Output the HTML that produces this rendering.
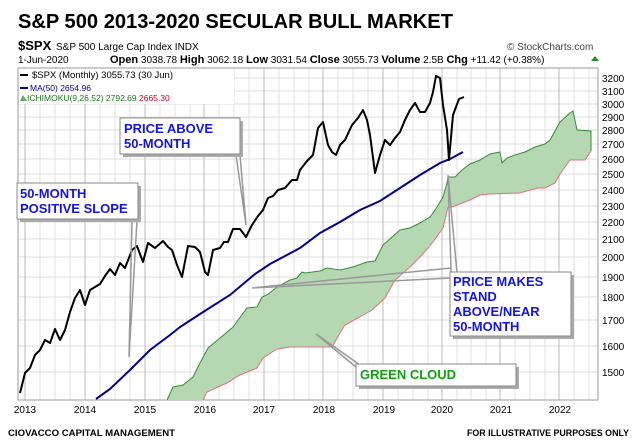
<!DOCTYPE html>
<html><head><meta charset="utf-8"><style>
html,body{margin:0;padding:0;background:#fff;}
svg{display:block;}
text{font-family:"Liberation Sans",sans-serif;}
</style></head><body>
<svg width="640" height="444" viewBox="0 0 640 444" xmlns="http://www.w3.org/2000/svg">
<rect width="640" height="444" fill="#fff"/>
<text x="18" y="28" font-size="20" font-weight="bold" textLength="435" lengthAdjust="spacingAndGlyphs">S&amp;P 500  2013-2020 SECULAR BULL MARKET</text>
<text x="18" y="50" font-size="13" font-weight="bold">$SPX</text>
<text x="56" y="50" font-size="10">S&amp;P 500 Large Cap Index  INDX</text>
<text x="507" y="50" font-size="10" fill="#444">© StockCharts.com</text>
<text x="18" y="63" font-size="10">1-Jun-2020</text>
<text x="110" y="63" font-size="10"><tspan font-weight="bold" font-size="11">Open</tspan> 3038.78 <tspan font-weight="bold" font-size="11">High</tspan> 3062.18 <tspan font-weight="bold" font-size="11">Low</tspan> 3031.54 <tspan font-weight="bold" font-size="11">Close</tspan> 3055.73 <tspan font-weight="bold" font-size="11">Volume</tspan> 2.5B <tspan font-weight="bold" font-size="11">Chg</tspan> +11.42 (+0.38%)</text>
<polygon points="591,61 595,56 599,61" fill="#2a8a2a"/>
<g stroke="#ddd" stroke-width="1">
<line x1="18" y1="78" x2="598" y2="78"/><line x1="18" y1="91" x2="598" y2="91"/><line x1="18" y1="104" x2="598" y2="104"/><line x1="18" y1="117" x2="598" y2="117"/><line x1="18" y1="130" x2="598" y2="130"/><line x1="18" y1="144" x2="598" y2="144"/><line x1="18" y1="159" x2="598" y2="159"/><line x1="18" y1="174" x2="598" y2="174"/><line x1="18" y1="190" x2="598" y2="190"/><line x1="18" y1="206" x2="598" y2="206"/><line x1="18" y1="222" x2="598" y2="222"/><line x1="18" y1="239" x2="598" y2="239"/><line x1="18" y1="257" x2="598" y2="257"/><line x1="18" y1="277" x2="598" y2="277"/><line x1="18" y1="297" x2="598" y2="297"/><line x1="18" y1="320" x2="598" y2="320"/><line x1="18" y1="346" x2="598" y2="346"/><line x1="18" y1="372" x2="598" y2="372"/>
</g>
<g stroke="#bbb" stroke-width="1">
<line x1="25" y1="68" x2="25" y2="400"/><line x1="85" y1="68" x2="85" y2="400"/><line x1="145" y1="68" x2="145" y2="400"/><line x1="204" y1="68" x2="204" y2="400"/><line x1="264" y1="68" x2="264" y2="400"/><line x1="323" y1="68" x2="323" y2="400"/><line x1="383" y1="68" x2="383" y2="400"/><line x1="442" y1="68" x2="442" y2="400"/><line x1="500" y1="68" x2="500" y2="400"/><line x1="559" y1="68" x2="559" y2="400"/>
</g>
<g stroke="#e2e2e2"><line x1="40" y1="68" x2="40" y2="400"/><line x1="55" y1="68" x2="55" y2="400"/><line x1="70" y1="68" x2="70" y2="400"/><line x1="100" y1="68" x2="100" y2="400"/><line x1="115" y1="68" x2="115" y2="400"/><line x1="130" y1="68" x2="130" y2="400"/><line x1="160" y1="68" x2="160" y2="400"/><line x1="175" y1="68" x2="175" y2="400"/><line x1="190" y1="68" x2="190" y2="400"/><line x1="219" y1="68" x2="219" y2="400"/><line x1="234" y1="68" x2="234" y2="400"/><line x1="249" y1="68" x2="249" y2="400"/><line x1="279" y1="68" x2="279" y2="400"/><line x1="294" y1="68" x2="294" y2="400"/><line x1="309" y1="68" x2="309" y2="400"/><line x1="338" y1="68" x2="338" y2="400"/><line x1="353" y1="68" x2="353" y2="400"/><line x1="368" y1="68" x2="368" y2="400"/><line x1="398" y1="68" x2="398" y2="400"/><line x1="413" y1="68" x2="413" y2="400"/><line x1="428" y1="68" x2="428" y2="400"/><line x1="457" y1="68" x2="457" y2="400"/><line x1="471" y1="68" x2="471" y2="400"/><line x1="486" y1="68" x2="486" y2="400"/><line x1="515" y1="68" x2="515" y2="400"/><line x1="530" y1="68" x2="530" y2="400"/><line x1="545" y1="68" x2="545" y2="400"/><line x1="574" y1="68" x2="574" y2="400"/><line x1="589" y1="68" x2="589" y2="400"/></g>
<rect x="18" y="68" width="580" height="332" fill="none" stroke="#999"/>
<rect x="19" y="69" width="215" height="35" fill="#fff"/>
<line x1="20" y1="75" x2="28" y2="75" stroke="#000" stroke-width="2"/>
<text x="32" y="78" font-size="9.5" font-family="Liberation Mono,monospace">$SPX (Monthly) 3055.73 (30 Jun)</text>
<line x1="20" y1="88" x2="28" y2="88" stroke="#00008b" stroke-width="2"/>
<text x="30" y="91" font-size="8.5" fill="#00008b">MA(50) 2654.96</text>
<polygon points="20,101 23,95 27,101" fill="#6a6"/>
<text x="27" y="101" font-size="8.5" fill="#1a7a1a">ICHIMOKU(9,26,52) 2792.69 <tspan fill="#c00020">2665.30</tspan></text>
<!-- cloud -->
<polygon fill="#b5d8b3" points="167,400 173,387 183,385 193,377 200,363 208,348 220,338 233,327 247,308 257,307 262,297 267,295 277,287 290,280 297,278 302,272 305,273 320,271 327,268 340,270 353,267 367,262 375,261 383,245 400,230 410,228 420,223 430,217 437,207 443,197 447,183 448,177 455,177 462,170 470,164 480,160 490,154 500,152 502,163 507,158 515,155 525,152 535,147 545,144 550,140 560,122 570,113 573,111 577,130 591,131 591,151 585,160 570,160 560,174 555,183 545,188 538,188 530,190 520,193 490,194 480,195 470,200 452,207 448,207 443,228 433,242 422,255 410,267 395,280 385,298 372,310 358,318 345,325 340,333 332,347 300,347 290,347 277,349 263,358 257,368 240,375 227,383 207,392 203,400"/>
<polyline fill="none" stroke="#3a8a3a" stroke-width="1" points="167,400 173,387 183,385 193,377 200,363 208,348 220,338 233,327 247,308 257,307 262,297 267,295 277,287 290,280 297,278 302,272 305,273 320,271 327,268 340,270 353,267 367,262 375,261 383,245 400,230 410,228 420,223 430,217 437,207 443,197 447,183 448,177 455,177 462,170 470,164 480,160 490,154 500,152 502,163 507,158 515,155 525,152 535,147 545,144 550,140 560,122 570,113 573,111 577,130 591,131 591,151"/>
<polyline fill="none" stroke="#e07080" stroke-width="1" points="591,151 585,160 570,160 560,174 555,183 545,188 538,188 530,190 520,193 490,194 480,195 470,200 452,207 448,207 443,228 433,242 422,255 410,267 395,280 385,298 372,310 358,318 345,325 340,333 332,347 300,347 290,347 277,349 263,358 257,368 240,375 227,383 207,392 203,400"/>
<polyline fill="none" stroke="#00008b" stroke-width="2" points="96,399 110,389 130,370 150,350 170,335 180,327 200,314 230,295 255,274 270,264 300,248 320,233 340,222 360,210 380,201 400,188 420,175 440,163 450,159 463,152"/>
<polyline fill="none" stroke="#000" stroke-width="2" stroke-linejoin="round" points="20,393 25,373 30,368 35,355 40,350 45,340 50,343 55,329 60,340 65,330 70,312 75,298 80,290 85,305 90,290 95,287 100,284 105,276 110,269 115,275 120,263 125,268 132,250 137,246 143,262 148,243 155,248 163,241 168,247 172,250 177,265 182,277 188,246 195,247 200,252 205,272 208,275 213,250 220,248 224,242 228,242 233,229 240,229 246,237 252,225 258,216 263,210 268,198 273,196 278,190 285,188 292,180 297,180 300,170 307,161 313,155 318,128 323,122 328,145 332,152 336,155 340,145 345,140 352,125 358,118 363,110 367,120 370,135 375,173 380,155 385,140 390,145 395,138 400,132 405,120 410,110 415,103 420,112 425,112 430,103 433,92 436,76 440,78 443,105 447,130 449,160 453,115 459,99 464,97"/>
<g font-size="10" text-anchor="start">
<text x="602" y="82">3200</text><text x="602" y="95">3100</text><text x="602" y="108">3000</text><text x="602" y="121">2900</text><text x="602" y="134">2800</text><text x="602" y="148">2700</text><text x="602" y="163">2600</text><text x="602" y="178">2500</text><text x="602" y="194">2400</text><text x="602" y="210">2300</text><text x="602" y="226">2200</text><text x="602" y="243">2100</text><text x="602" y="261">2000</text><text x="602" y="281">1900</text><text x="602" y="301">1800</text><text x="602" y="324">1700</text><text x="602" y="350">1600</text><text x="602" y="376">1500</text>
</g>
<g font-size="10" text-anchor="middle">
<text x="25" y="413">2013</text><text x="85" y="413">2014</text><text x="145" y="413">2015</text><text x="205" y="413">2016</text><text x="264" y="413">2017</text><text x="324" y="413">2018</text><text x="384" y="413">2019</text><text x="442" y="413">2020</text><text x="501" y="413">2021</text><text x="560" y="413">2022</text>
</g>
<text x="8" y="436" font-size="9" font-weight="bold" textLength="167" lengthAdjust="spacingAndGlyphs">CIOVACCO CAPITAL MANAGEMENT</text>
<text x="467" y="436" font-size="9" font-weight="bold" textLength="162" lengthAdjust="spacingAndGlyphs">FOR ILLUSTRATIVE PURPOSES ONLY</text>
<g stroke="#999" stroke-width="1.5" fill="none">
<polyline points="236,155 246,225 240,155"/>
<polyline points="132,221 129,357 137,221"/>
<polyline points="452,300 448,175 457,273"/>
<polyline points="451,268 252,288 451,278"/>
<polyline points="360,365 316,334 362,372"/>
</g>
<g>
<rect x="123" y="121" width="120" height="36" fill="#aaa"/>
<rect x="120" y="118" width="120" height="36" fill="#fff" stroke="#888"/>
<text x="124" y="133" font-size="13" font-weight="bold" fill="#1414e0">PRICE ABOVE</text>
<text x="124" y="148" font-size="13" font-weight="bold" fill="#1414e0">50-MONTH</text>
<rect x="20" y="186" width="121" height="36" fill="#aaa"/>
<rect x="17" y="183" width="121" height="36" fill="#fff" stroke="#888"/>
<text x="20" y="198" font-size="13" font-weight="bold" fill="#1414e0">50-MONTH</text>
<text x="20" y="213" font-size="13" font-weight="bold" fill="#1414e0">POSITIVE SLOPE</text>
<rect x="453" y="275" width="121" height="64" fill="#aaa"/>
<rect x="450" y="272" width="121" height="64" fill="#fff" stroke="#888"/>
<text x="453" y="286" font-size="13" font-weight="bold" fill="#1414e0">PRICE MAKES</text>
<text x="453" y="301" font-size="13" font-weight="bold" fill="#1414e0">STAND</text>
<text x="453" y="316" font-size="13" font-weight="bold" fill="#1414e0">ABOVE/NEAR</text>
<text x="453" y="331" font-size="13" font-weight="bold" fill="#1414e0">50-MONTH</text>
<rect x="359" y="367" width="160" height="22" fill="#aaa"/>
<rect x="356" y="364" width="160" height="22" fill="#fff" stroke="#888"/>
<text x="360" y="379" font-size="13" font-weight="bold" fill="#12a012">GREEN CLOUD</text>
</g>
</svg>
</body></html>
